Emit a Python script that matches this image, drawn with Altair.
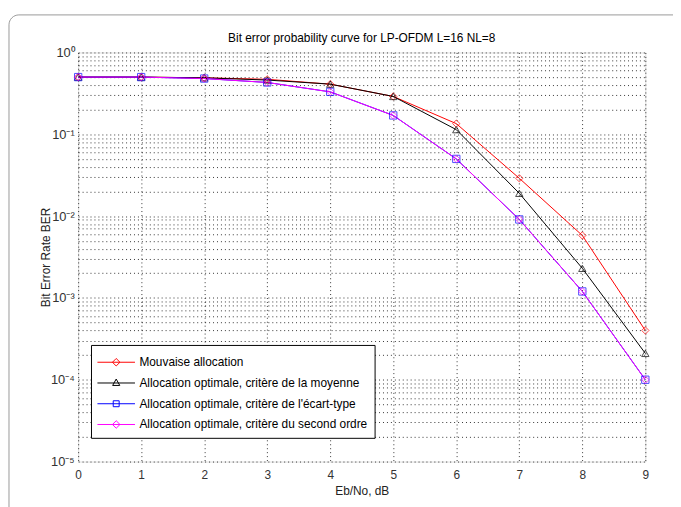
import altair as alt
import pandas as pd

# ---------------- data ----------------
ebno = [0, 1, 2, 3, 4, 5, 6, 7, 8, 9]
ber_mauvaise = [0.50, 0.50, 0.49, 0.47, 0.41, 0.29, 0.135, 0.029, 0.0058, 0.00040]
ber_moyenne = [0.50, 0.50, 0.49, 0.46, 0.41, 0.29, 0.114, 0.019, 0.0023, 0.00021]
ber_ecart = [0.50, 0.50, 0.48, 0.43, 0.33, 0.17, 0.050, 0.0091, 0.0012, 0.00010]
ber_second = [0.50, 0.50, 0.48, 0.43, 0.33, 0.17, 0.050, 0.0091, 0.0012, 0.00010]

series_names = [
    "Mouvaise allocation",
    "Allocation optimale, critère de la moyenne",
    "Allocation optimale, critère de l'écart-type",
    "Allocation optimale, critère du second ordre",
]
series_values = [ber_mauvaise, ber_moyenne, ber_ecart, ber_second]
series_colors = ["#ff0000", "#000000", "#0000ff", "#ff00ff"]
series_shapes = ["diamond", "triangle-up", "square", "diamond"]

x_ticks = [0, 1, 2, 3, 4, 5, 6, 7, 8, 9]
decades = [1, 0.1, 0.01, 0.001, 0.0001, 0.00001]
decade_labels = ["10⁰", "10⁻¹", "10⁻²", "10⁻³", "10⁻⁴", "10⁻⁵"]

title_text = "Bit error probability curve for LP-OFDM L=16 NL=8"
x_title = "Eb/No, dB"
y_title = "Bit Error Rate BER"

# ---------------- table ----------------
rows = []
for name, vals in zip(series_names, series_values):
    for x, v in zip(ebno, vals):
        rows.append({"x": x, "ber": v, "series": name, "leg": name})
df = pd.DataFrame(rows)

# y grid values: decades plus minor 2..9
y_grid = []
for d in decades[1:]:
    for k in range(1, 10):
        y_grid.append(round(k * d, 10))
y_grid.append(1)

label_expr = " : ".join(
    f"datum.value == {d} ? '{l}'" for d, l in zip(decades, decade_labels)
) + " : ''"

FONT = "Liberation Sans"

xenc = alt.X(
    "x:Q",
    scale=alt.Scale(domain=[0, 9], nice=False),
    axis=alt.Axis(
        values=x_ticks, title=x_title, grid=True, gridDash=[1, 3], gridColor="#000",
        gridOpacity=0.8, ticks=False, domain=False, labelFontSize=12, labelFont=FONT,
        labelColor="#333", labelPadding=8, titleFont=FONT, titleFontSize=12,
        titleFontWeight="normal", titleColor="#222", titlePadding=5, format="d",
        labelFlush=False,
    ),
)
yenc = alt.Y(
    "ber:Q",
    scale=alt.Scale(type="log", domain=[0.00001, 1], nice=False),
    axis=alt.Axis(
        values=y_grid, labelExpr=label_expr, title=y_title, grid=True, gridDash=[1, 3],
        gridColor="#000", gridOpacity=0.8, ticks=False, domain=False, labelFontSize=13,
        labelFont=FONT, labelColor="#333", labelPadding=4, titleFont=FONT,
        titleFontSize=12, titleFontWeight="normal", titleColor="#222",
        titleX=-26, titleY=207, labelFlush=False, labelOverlap=False,
    ),
)

color_scale = alt.Scale(domain=series_names, range=series_colors)

lines = alt.Chart(df).mark_line(strokeWidth=1).encode(
    x=xenc, y=yenc,
    color=alt.Color("series:N", scale=color_scale, legend=None),
)

points = alt.Chart(df).mark_point(filled=False, size=55, strokeWidth=1).encode(
    x="x:Q", y="ber:Q",
    color=alt.Color("series:N", scale=color_scale, legend=None),
    shape=alt.Shape("series:N", scale=alt.Scale(domain=series_names, range=series_shapes), legend=None),
)

leg_paths = [
    "M-1.9,0L1.9,0M0,-0.38L0.38,0L0,0.38L-0.38,0Z",
    "M-1.9,0L1.9,0M0,-0.4L0.36,0.25L-0.36,0.25Z",
    "M-1.9,0L1.9,0M-0.3,-0.3L0.3,-0.3L0.3,0.3L-0.3,0.3Z",
    "M-1.9,0L1.9,0M0,-0.38L0.38,0L0,0.38L-0.38,0Z",
]

legend = alt.Legend(
    title=None, orient="none", legendX=13, legendY=296, strokeColor="#000",
    fillColor="#fff", padding=7, labelFont=FONT, labelFontSize=12, labelColor="#000",
    labelLimit=400, symbolSize=400, symbolStrokeWidth=1, symbolFillColor="transparent",
    symbolOffset=8, rowPadding=4, labelOffset=13,
)

leg_layer = alt.Chart(df).mark_point(filled=False, opacity=0).encode(
    x="x:Q", y="ber:Q",
    color=alt.Color("leg:N", scale=alt.Scale(domain=series_names, range=series_colors), legend=legend),
    shape=alt.Shape("leg:N", scale=alt.Scale(domain=series_names, range=leg_paths), legend=legend),
)

frame = alt.Chart(alt.Data(values=[{"a": 1}])).mark_rect(
    fill="transparent", stroke="#999", strokeWidth=1, cornerRadius=10
).encode(
    x=alt.value(-70), x2=alt.value(620), y=alt.value(-38), y2=alt.value(480)
)

chart = alt.layer(frame, lines, points, leg_layer).resolve_scale(
    color="independent", shape="independent"
).properties(
    width=574, height=414,
    title=alt.TitleParams(title_text, font=FONT, fontSize=12, fontWeight="normal",
                          color="#000", offset=7, dy=38, anchor="middle", frame="group"),
    autosize=alt.AutoSizeParams(type="none"),
    padding={"left": 71, "top": 42, "right": 28, "bottom": 43},
).configure_view(stroke="#000", strokeWidth=1).configure(background="#fff")

chart.save("out.html", embed_options={"renderer": "svg", "actions": False})
